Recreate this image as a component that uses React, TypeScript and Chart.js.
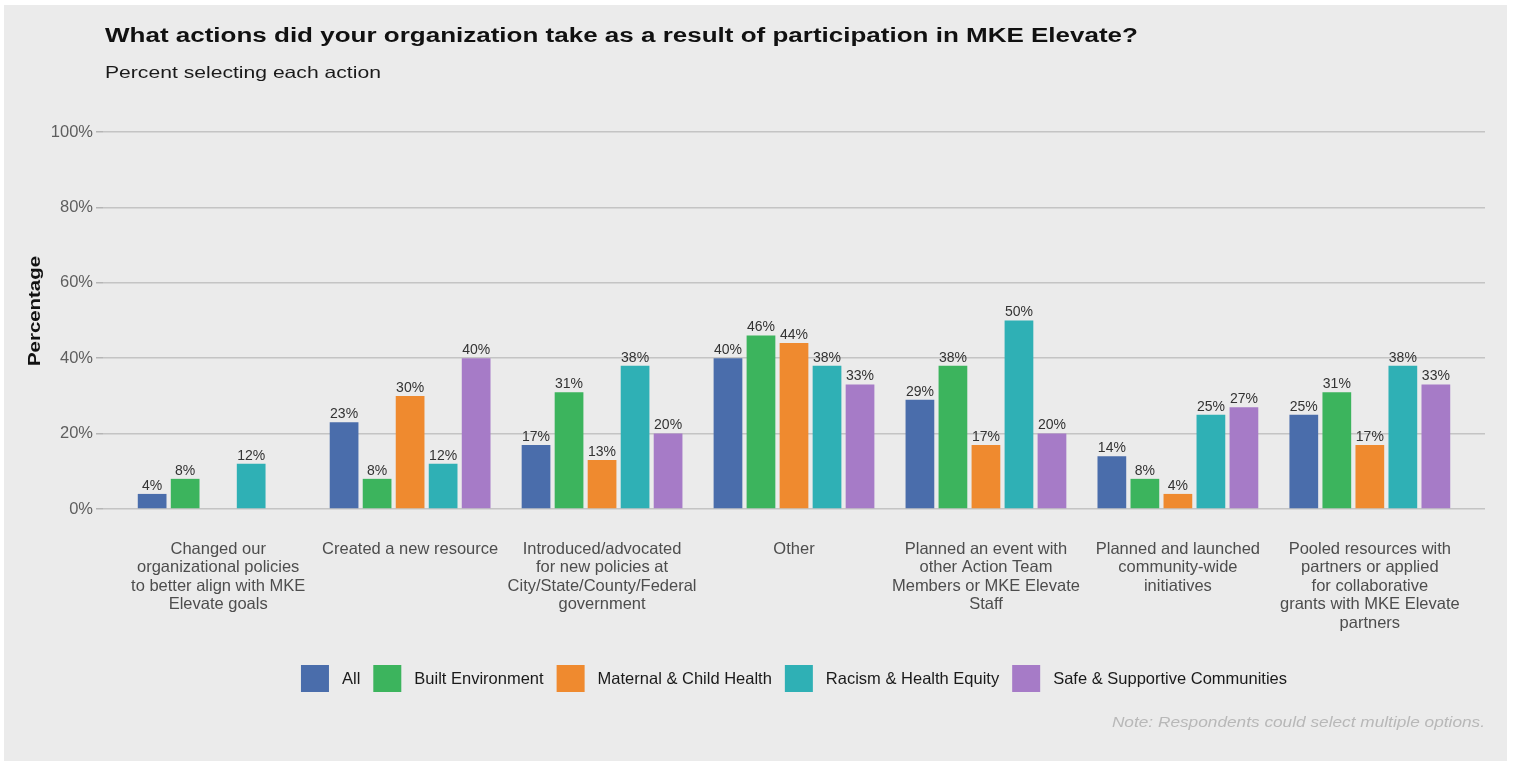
import React, { useEffect, useRef } from "react";
import { Chart, registerables } from "chart.js";

Chart.register(...registerables);

const categories: string[][] = [
  ["Changed our", "organizational policies", "to better align with MKE", "Elevate goals"],
  ["Created a new resource"],
  ["Introduced/advocated", "for new policies at", "City/State/County/Federal", "government"],
  ["Other"],
  ["Planned an event with", "other Action Team", "Members or MKE Elevate", "Staff"],
  ["Planned and launched", "community-wide", "initiatives"],
  ["Pooled resources with", "partners or applied", "for collaborative", "grants with MKE Elevate", "partners"],
];

const seriesNames = ["All", "Built Environment", "Maternal & Child Health", "Racism & Health Equity", "Safe & Supportive Communities"];
const seriesColors = ["#4A6DAB", "#3CB45D", "#EF8A2F", "#2FB0B5", "#A67BC7"];

const allValues: (number | null)[] = [4, 23, 17, 40, 29, 14, 25];
const builtEnvValues: (number | null)[] = [8, 8, 31, 46, 38, 8, 31];
const maternalValues: (number | null)[] = [null, 30, 13, 44, 17, 4, 17];
const racismValues: (number | null)[] = [12, 12, 38, 38, 50, 25, 38];
const safeValues: (number | null)[] = [null, 40, 20, 33, 20, 27, 33];

const yTicks = [0, 20, 40, 60, 80, 100];

const titleText = "What actions did your organization take as a result of participation in MKE Elevate?";
const subtitleText = "Percent selecting each action";
const yTitleText = "Percentage";
const noteText = "Note: Respondents could select multiple options.";

const FONT = "Arial, Helvetica, sans-serif";

function stretchedText(ctx: any, text: string, x: number, y: number, sx: number, align: string) {
  ctx.save();
  ctx.translate(x, y);
  ctx.scale(sx, 1);
  ctx.textAlign = align;
  ctx.fillText(text, 0, 0);
  ctx.restore();
}

export default function App() {
  const ref = useRef<HTMLCanvasElement>(null);
  useEffect(() => {
    document.body.style.margin = "0";
    const canvas = ref.current!;
    const seriesValues = [allValues, builtEnvValues, maternalValues, racismValues, safeValues];

    const decor = {
      id: "decor",
      beforeDraw(chart: any) {
        const ctx = chart.ctx;
        ctx.save();
        ctx.fillStyle = "#ffffff";
        ctx.fillRect(0, 0, chart.width, chart.height);
        ctx.fillStyle = "#EBEBEB";
        ctx.fillRect(4, 5, 1503, 756);
        ctx.restore();
      },
      afterDraw(chart: any) {
        const ctx = chart.ctx;
        const area = chart.chartArea;
        ctx.save();
        ctx.textBaseline = "alphabetic";
        ctx.fillStyle = "#111111";
        ctx.font = `bold 20px ${FONT}`;
        stretchedText(ctx, titleText, 105, 42, 1.3, "left");
        ctx.font = `16.5px ${FONT}`;
        ctx.fillStyle = "#1a1a1a";
        stretchedText(ctx, subtitleText, 105, 77.5, 1.28, "left");
        // y title
        ctx.save();
        ctx.translate(39.5, 311);
        ctx.rotate(-Math.PI / 2);
        ctx.scale(1.2, 1);
        ctx.textAlign = "center";
        ctx.font = `bold 17px ${FONT}`;
        ctx.fillStyle = "#111111";
        ctx.fillText(yTitleText, 0, 0);
        ctx.restore();
        // legend
        ctx.font = `16.5px ${FONT}`;
        const boxW = 28, boxH = 27, gap = 13;
        const widths = seriesNames.map((n) => ctx.measureText(n).width);
        let total = 0;
        widths.forEach((w, i) => {
          total += boxW + gap + w + (i < widths.length - 1 ? gap : 0);
        });
        let x = (area.left + area.right) / 2 - total / 2;
        const cy = 678.5;
        ctx.textBaseline = "middle";
        ctx.textAlign = "left";
        seriesNames.forEach((n, i) => {
          ctx.fillStyle = seriesColors[i];
          ctx.fillRect(x, cy - boxH / 2, boxW, boxH);
          x += boxW + gap;
          ctx.fillStyle = "#1a1a1a";
          ctx.fillText(n, x, cy + 1);
          x += widths[i] + gap;
        });
        // note
        ctx.font = `italic 14.5px ${FONT}`;
        ctx.fillStyle = "#b8b8b8";
        ctx.textBaseline = "alphabetic";
        stretchedText(ctx, noteText, area.right, 727, 1.19, "right");
        ctx.restore();
      },
      afterDatasetsDraw(chart: any) {
        const ctx = chart.ctx;
        ctx.save();
        ctx.font = `14px ${FONT}`;
        ctx.fillStyle = "#333333";
        ctx.textAlign = "center";
        ctx.textBaseline = "bottom";
        chart.data.datasets.forEach((ds: any, di: number) => {
          const meta = chart.getDatasetMeta(di);
          meta.data.forEach((bar: any, i: number) => {
            const v = ds.data[i].y;
            if (v === null || v === undefined) return;
            ctx.fillText(`${v}%`, bar.x, bar.y - 1);
          });
        });
        ctx.restore();
      },
    };

    const chart = new Chart(canvas, {
      type: "bar",
      data: {
        datasets: seriesNames.map((name, si) => ({
          label: name,
          data: seriesValues[si].map((v, i) => ({ x: i, y: v })),
          backgroundColor: seriesColors[si],
          borderWidth: 0,
          categoryPercentage: 0.86,
          barPercentage: 0.87,
        })),
      },
      options: {
        responsive: false,
        animation: false,
        layout: { padding: { top: 132, right: 29, bottom: 0, left: 0 } },
        plugins: {
          legend: { display: false },
          tooltip: { enabled: false },
          title: { display: false },
        },
        scales: {
          x: {
            type: "linear",
            offset: false,
            min: -0.6,
            max: 6.6,
            grid: { display: false },
            border: { display: false },
            afterBuildTicks: (scale: any) => {
              scale.ticks = categories.map((_, i) => ({ value: i }));
            },
            afterFit: (scale: any) => {
              scale.height = 253;
            },
            ticks: {
              autoSkip: false,
              maxRotation: 0,
              minRotation: 0,
              padding: 23,
              color: "#4d4d4d",
              font: { family: FONT, size: 16.5, lineHeight: 1.12 },
              callback: (value: any) => categories[value as number] ?? "",
            },
          },
          y: {
            min: 0,
            max: 100,
            afterBuildTicks: (scale: any) => {
              scale.ticks = yTicks.map((v) => ({ value: v }));
            },
            afterFit: (scale: any) => {
              scale.width = 103;
            },
            grid: {
              color: "#C4C4C4",
              lineWidth: 1.5,
              tickLength: 7,
              tickColor: "#B5B5B5",
            },
            border: { display: false },
            ticks: {
              padding: 3,
              color: "#5e5e5e",
              font: { family: FONT, size: 16.5 },
              callback: (v: any) => `${v}%`,
            },
          },
        },
      },
      plugins: [decor],
    } as any);
    return () => chart.destroy();
  }, []);
  return <canvas ref={ref} width={1514} height={762} style={{ display: "block" }} />;
}
